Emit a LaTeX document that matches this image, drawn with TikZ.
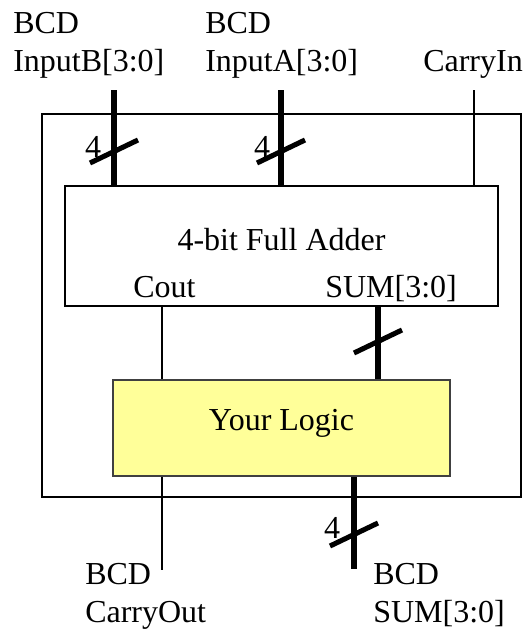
\documentclass[tikz,border=0pt]{standalone}
\usepackage{fontspec}
\setmainfont{Liberation Serif}
\usepackage{tikz}
\usetikzlibrary{positioning}
\definecolor{logicfill}{RGB}{255,255,153}
\definecolor{logicedge}{RGB}{64,64,64}

\begin{document}
\begin{tikzpicture}[
  x=0.75pt, y=-0.75pt,
  every node/.style={font=\fontsize{24}{28.5}\selectfont, inner sep=0pt},
  block/.style={draw, line width=1.5pt, fill=white},
  sig/.style={align=left, anchor=base west},
  wire/.style={line width=1.5pt},
  bus/.style={line width=3.8pt},
  busmark/.pic={\draw[line width=3.8pt] (-24,11.5) -- (24,-11.5);}
]
\useasboundingbox (0,0) rectangle (522,629);

% enclosing box and the two blocks
\node[draw, line width=1.5pt, minimum width=359.25pt, minimum height=287.25pt]
  (outer) at (281.5,305.5) {};
\node[block, minimum width=324.75pt, minimum height=90pt] (adder) at (281.5,246) {};
\node[block, draw=logicedge, fill=logicfill, minimum width=252.75pt,
      minimum height=72pt, below=54pt of adder] (logic) {};

\node (addertxt) at (adder.center) [anchor=base, yshift=-3pt] {4-bit Full Adder};
\node[anchor=base west] (couttxt) at (133,297) {Cout};
\node[anchor=base west] (sumtxt) at (325,297) {SUM[3:0]};
\node (logictxt) at (logic.center) [anchor=base, yshift=-1.5pt] {Your Logic};

% input signals (base = last line)
\node[sig] (bname) at (13,71) {BCD\\InputB[3:0]};
\node[sig] (aname) at (205,71) {BCD\\InputA[3:0]};
\node[anchor=base west] (ciname) at (423,71) {CarryIn};
\coordinate (inB) at (114,90);
\coordinate (inA) at (281,90);
\coordinate (cin) at (474,90);

\draw[bus] (inB) -- (inB |- adder.north);
\draw[bus] (inA) -- (inA |- adder.north);
\draw[wire] (cin) -- (cin |- adder.north);
\pic at (114,151.5) {busmark};
\pic at (281,151.5) {busmark};
\node (bwidth) at (93,147) {4};
\node (awidth) at (262,147) {4};

% adder to logic
\coordinate (cout) at (162,570);
\coordinate (sum) at (378,0);
\draw[wire] (cout |- adder.south) -- (cout |- logic.north);
\draw[bus] (sum |- adder.south) -- (sum |- logic.north);
\pic at (378,341.5) {busmark};

% outputs
\coordinate (outsum) at (354,569);
\draw[wire] (cout |- logic.south) -- (cout);
\draw[bus] (outsum |- logic.south) -- (outsum);
\pic at (354,534.5) {busmark};
\node (swidth) at (332,528) {4};

\node[sig] (coname) at (85,622) {BCD\\CarryOut};
\node[sig] (soname) at (373,622) {BCD\\SUM[3:0]};
\end{tikzpicture}
\end{document}
